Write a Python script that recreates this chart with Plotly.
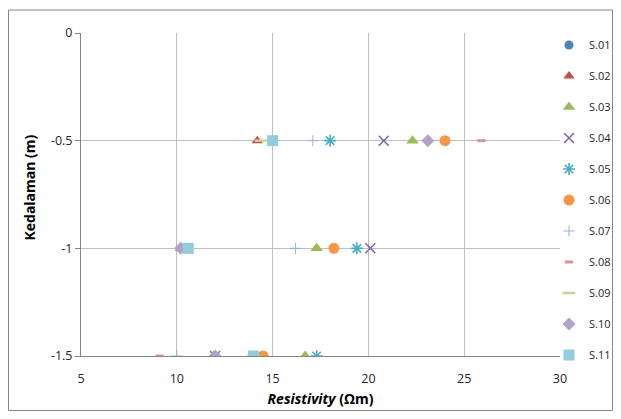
import plotly.graph_objects as go

depths = [-0.5, -1.0, -1.5]
series_names = ["S.01", "S.02", "S.03", "S.04", "S.05", "S.06", "S.07", "S.08", "S.09", "S.10", "S.11"]
s01 = [24.0, 18.2, 14.5]
s02 = [14.2, 10.2, 14.0]
s03 = [22.3, 17.3, 16.7]
s04 = [20.8, 20.1, 12.0]
s05 = [18.0, 19.4, 17.3]
s06 = [24.0, 18.2, 14.5]
s07 = [17.1, 16.2, 10.0]
s08 = [25.9, 10.2, 9.1]
s09 = [14.4, 10.4, 14.0]
s10 = [23.1, 10.2, 12.0]
s11 = [15.0, 10.6, 14.0]
values = [s01, s02, s03, s04, s05, s06, s07, s08, s09, s10, s11]

x_ticks = [5, 10, 15, 20, 25, 30]
y_ticks = [0, -0.5, -1, -1.5]
y_tick_labels = ["0", "-0.5", "-1", "-1.5"]

styles = [
    dict(symbol="circle", color="#4F81BD", size=9, lw=0),
    dict(symbol="triangle-up", color="#C0504D", size=10, lw=0),
    dict(symbol="triangle-up", color="#9BBB59", size=11, lw=0),
    dict(symbol="x-thin-open", color="#8064A2", size=10, lw=1.5),
    dict(symbol="asterisk-open", color="#4BACC6", size=10, lw=1.6),
    dict(symbol="circle", color="#F79646", size=11, lw=0),
    dict(symbol="cross-thin-open", color="#95B3D7", size=8, lw=1),
    dict(symbol="line-ew-open", color="#D99694", size=6, lw=3),
    dict(symbol="line-ew-open", color="#C3D69B", size=9, lw=2.5),
    dict(symbol="diamond", color="#B3A2C7", size=10, lw=0),
    dict(symbol="square", color="#93CDDD", size=11, lw=0),
]

fig = go.Figure()
for name, vals, st in zip(series_names, values, styles):
    marker = dict(symbol=st["symbol"], size=st["size"], color=st["color"])
    if st["lw"]:
        marker["line"] = dict(color=st["color"], width=st["lw"])
    else:
        marker["line"] = dict(width=0)
    fig.add_trace(go.Scatter(x=vals, y=depths, mode="markers", name=name,
                             legendgroup=name, marker=marker))

W, H = 605, 403          # page body has an 8px margin
L, B = 73, 55            # plot area: x 73..552, y 25..348 (figure px)
PW, PH = W - L, H - B    # paper: 532 x 348
Y_DOM = 323 / PH

fig.update_layout(
    width=W, height=H,
    margin=dict(l=L, r=0, t=0, b=B, autoexpand=False),
    paper_bgcolor="white", plot_bgcolor="white",
    font=dict(family="Open Sans", size=12, color="#262626"),
    showlegend=True,
    legend=dict(x=(541 - L) / PW, y=(PH - 22.5) / PH, xanchor="left", yanchor="top",
                font=dict(size=11, color="#262626"),
                tracegroupgap=12, itemsizing="trace",
                bgcolor="rgba(0,0,0,0)"),
    xaxis=dict(domain=[0, 479 / PW], range=[5, 30], tickvals=x_ticks,
               ticktext=[str(v) for v in x_ticks], automargin=True,
               showgrid=True, gridcolor="#BFBFBF", gridwidth=1,
               showline=True, linecolor="#868686", linewidth=1,
               ticks="", ticklabelstandoff=11, zeroline=False,
               title=dict(text="<b><i>Resistivity</i> (Ωm)</b>", font=dict(size=14, color="#000000"), standoff=8),
               tickfont=dict(size=12.5, color="#262626")),
    yaxis=dict(domain=[0, Y_DOM], range=[-1.5, 0], tickvals=y_ticks, ticktext=y_tick_labels,
               showgrid=True, gridcolor="#BFBFBF", gridwidth=1,
               showline=True, linecolor="#868686", linewidth=1,
               ticks="outside", ticklen=5, tickcolor="#868686", zeroline=False,
               tickfont=dict(size=12.5, color="#262626")),
    annotations=[dict(text="<b>Kedalaman (m)</b>", textangle=-90, showarrow=False,
                      xref="paper", yref="paper", x=(22 - L) / PW, y=Y_DOM / 2 + 0.02,
                      xanchor="center", yanchor="middle",
                      font=dict(size=14, color="#000000"))],
)

fig.add_shape(type="rect", xref="paper", yref="paper",
              x0=(0.5 - L) / PW, x1=(604.5 - L) / PW,
              y0=(PH - 402.5) / PH, y1=(PH - 2) / PH,
              line=dict(color="#868686", width=1), fillcolor="rgba(0,0,0,0)", layer="below")

fig.write_html("out.html")
